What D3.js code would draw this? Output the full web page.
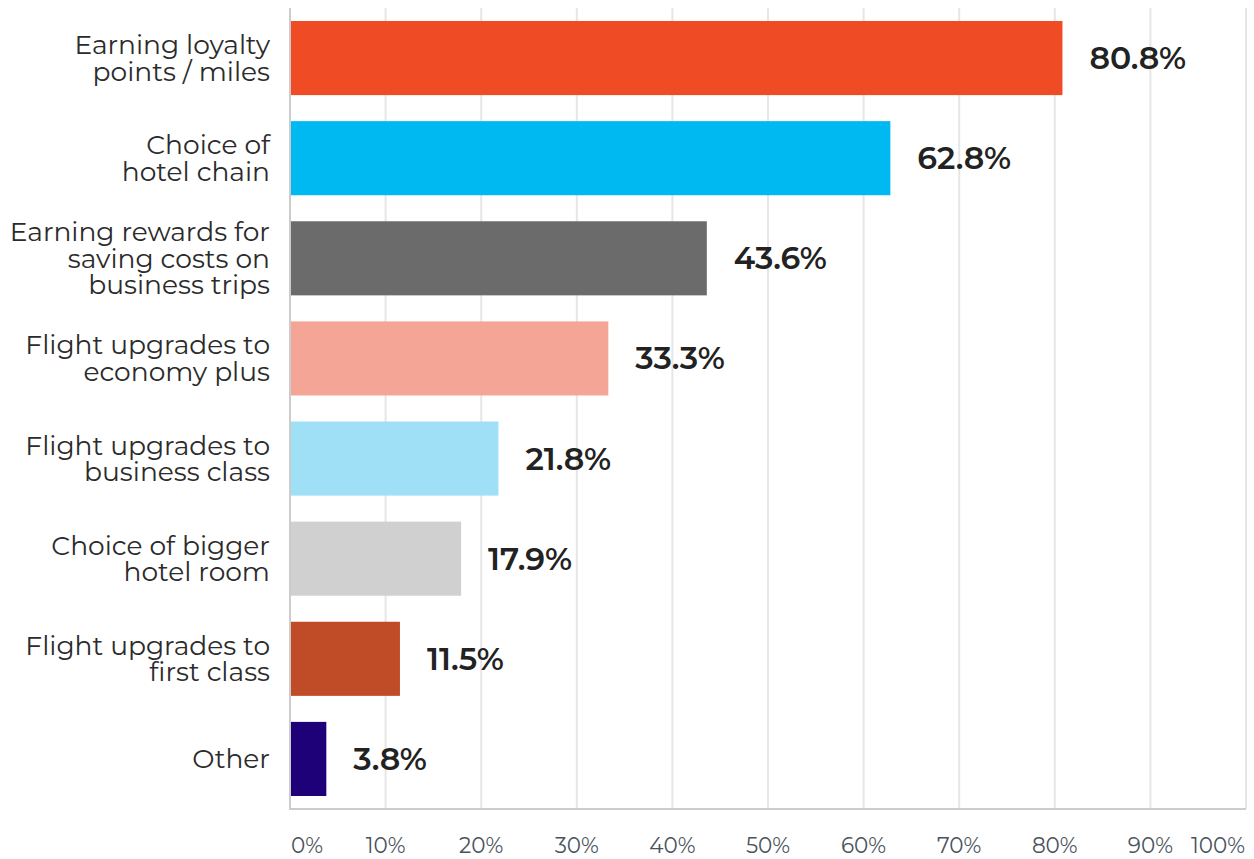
<!DOCTYPE html>
<html>
<head>
<meta charset="utf-8">
<script src="https://cdn.jsdelivr.net/npm/d3@7"></script>
<style>
  body { margin: 0; background: #fff; }
  text { font-family: Montserrat, "Open Sans", sans-serif; }
</style>
</head>
<body>
<script>
// data
let categories = [
  ["Earning loyalty", "points / miles"],
  ["Choice of", "hotel chain"],
  ["Earning rewards for", "saving costs on", "business trips"],
  ["Flight upgrades to", "economy plus"],
  ["Flight upgrades to", "business class"],
  ["Choice of bigger", "hotel room"],
  ["Flight upgrades to", "first class"],
  ["Other"]
];
let values = [80.8, 62.8, 43.6, 33.3, 21.8, 17.9, 11.5, 3.8];
let colors = ["#EF4B24", "#00B9F1", "#6B6B6B", "#F5A595", "#A0E0F7", "#D0D0D0", "#C04B27", "#1E0078"];
let ticks = [0, 10, 20, 30, 40, 50, 60, 70, 80, 90, 100];

let svg = d3.select('body')
  .append('svg')
  .attr("width", 1254)
  .attr("height", 859);

let plotLeft = 290, plotRight = 1246, plotTop = 8, plotBottom = 809;

let x = d3.scaleLinear().domain([0, 100]).range([plotLeft, plotRight]);
let y = d3.scaleBand()
  .domain(d3.range(values.length))
  .range([plotTop, plotBottom])
  .paddingInner(0.26)
  .paddingOuter(0.13);

// gridlines
svg.append("g")
  .selectAll("line")
  .data(ticks.slice(1))
  .join("line")
  .attr("x1", d => x(d))
  .attr("x2", d => x(d))
  .attr("y1", plotTop)
  .attr("y2", plotBottom)
  .attr("stroke", "#e6e6e6")
  .attr("stroke-width", 2);

// bars
svg.append("g")
  .selectAll("rect")
  .data(values)
  .join("rect")
  .attr("x", x(0))
  .attr("y", (d, i) => y(i))
  .attr("width", d => x(d) - x(0))
  .attr("height", y.bandwidth())
  .attr("fill", (d, i) => colors[i]);

// axis lines
svg.append("line")
  .attr("x1", plotLeft).attr("x2", plotLeft)
  .attr("y1", plotTop).attr("y2", plotBottom)
  .attr("stroke", "#cccccc").attr("stroke-width", 2);
svg.append("line")
  .attr("x1", plotLeft - 1).attr("x2", plotRight)
  .attr("y1", plotBottom).attr("y2", plotBottom)
  .attr("stroke", "#cccccc").attr("stroke-width", 2);

// tick labels
svg.append("g")
  .selectAll("text")
  .data(ticks)
  .join("text")
  .attr("x", d => d == 0 ? x(d) + 1 : d == 100 ? x(d) - 1 : x(d))
  .attr("y", 845)
  .attr("dy", "0.35em")
  .attr("text-anchor", d => d == 0 ? "start" : d == 100 ? "end" : "middle")
  .attr("fill", "#4a535b")
  .attr("font-size", 21.5)
  .text(d => d + "%");

// category labels
let lineH = 26.5;
svg.append("g")
  .selectAll("text")
  .data(categories)
  .join("text")
  .attr("text-anchor", "end")
  .attr("fill", "#2b2b2b")
  .attr("font-size", 26.5)
  .each(function (lines, i) {
    let cy = y(i) + y.bandwidth() / 2;
    let start = cy - (lines.length - 1) * lineH / 2;
    d3.select(this).selectAll("tspan")
      .data(lines)
      .join("tspan")
      .attr("x", 270)
      .attr("y", (d, j) => start + j * lineH)
      .attr("dy", "0.35em")
      .text(d => d);
  });

// value labels
svg.append("g")
  .selectAll("text")
  .data(values)
  .join("text")
  .attr("x", d => x(d) + 27)
  .attr("y", (d, i) => y(i) + y.bandwidth() / 2)
  .attr("dy", "0.35em")
  .attr("fill", "#222")
  .attr("font-size", 31.5)
  .attr("font-weight", 600)
  .text(d => d.toFixed(1) + "%");
</script>
</body>
</html>
